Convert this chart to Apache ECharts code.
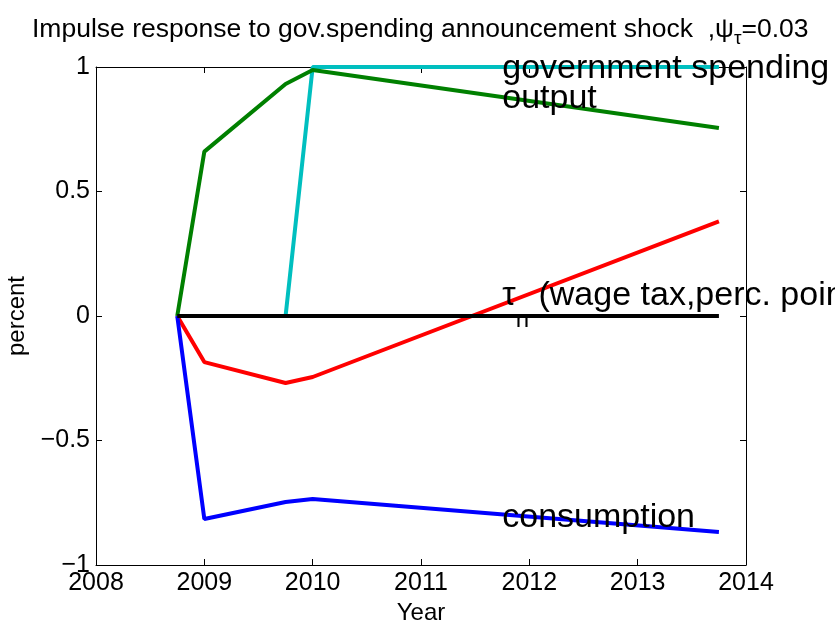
<!DOCTYPE html>
<html>
<head>
<meta charset="utf-8">
<script src="https://cdn.jsdelivr.net/npm/echarts@6/dist/echarts.min.js"></script>
<style>
html,body{margin:0;padding:0;background:#fff;}
#chart{width:835px;height:622px;}
</style>
</head>
<body>
<div id="chart"></div>
<script>
// quarters where the responses are drawn
var years = [2008.75, 2009, 2009.75, 2010, 2013.75];
var govSpending = [0, 0, 0, 1.0, 1.0];
var output = [0, 0.66, 0.932, 0.988, 0.755];
var redResponse = [0, -0.185, -0.269, -0.245, 0.38];
var consumption = [0, -0.815, -0.747, -0.735, -0.867];
var wageTax = [0, 0, 0, 0, 0];

// text labels put on the lines
var labelX = 2011.75;
var labelY = [1, 0.88, 0, -0.8];
var labelText = [
	'government spending',
	'output',
	'{t|τ}{s|n}{t| (wage tax,perc. points)}',
	'consumption'
];

var xTicks = [2008, 2014, 1];
var yTicks = [-1, 1, 0.5];

var chart = echarts.init(document.getElementById('chart'));

var pairs = function (ys) {
	return years.map(function (x, i) { return [x, ys[i]]; });
};
var lineSeries = function (name, ys, color) {
	return {
		name: name,
		type: 'line',
		data: pairs(ys),
		symbol: 'none',
		lineStyle: {color: color, width: 4},
		itemStyle: {color: color},
		animation: false
	};
};
var minus = function (v) {
	return String(v).replace('-', '\u2212');
};
var frameTick = {show: true, inside: true, length: 6, lineStyle: {color: '#000'}};
var frameLine = {show: true, onZero: false, lineStyle: {color: '#000', width: 1}};

var labelData = labelY.map(function (y, i) {
	var item = {value: [labelX, y, labelText[i]]};
	// the subscripted label sits higher, like matlab's text box middle
	if (labelText[i].indexOf('{s|') >= 0) {
		item.label = {offset: [0, -20]};
	}
	return item;
});

var option = {
	backgroundColor: '#fff',
	title: {
		text: '{a|Impulse response to gov.spending announcement shock  ,ψ}{b|τ}{a|=0.03}',
		left: 27,
		top: 6,
		textStyle: {
			fontWeight: 'normal',
			rich: {
				a: {fontSize: 26.5, color: '#000', fontWeight: 'normal', fontFamily: 'Liberation Sans'},
				b: {fontSize: 19, color: '#000', fontWeight: 'normal', fontFamily: 'Liberation Sans', padding: [18, 0, 0, 0]}
			}
		}
	},
	grid: {left: 96, right: 89, top: 67, bottom: 57, outerBoundsMode: 'none'},
	xAxis: [
		{
			type: 'value',
			min: xTicks[0], max: xTicks[1], interval: xTicks[2],
			name: 'Year',
			nameLocation: 'middle',
			nameGap: 30,
			nameTextStyle: {fontSize: 24, color: '#000', fontFamily: 'Liberation Sans'},
			axisLine: frameLine,
			axisTick: frameTick,
			splitLine: {show: false},
			axisLabel: {fontSize: 25, color: '#000', margin: 6, fontFamily: 'Liberation Sans',
				formatter: function (v) { return String(v); }}
		},
		{
			type: 'value', position: 'top',
			min: xTicks[0], max: xTicks[1], interval: xTicks[2],
			axisLine: frameLine,
			axisTick: frameTick,
			splitLine: {show: false},
			axisLabel: {show: false}
		}
	],
	yAxis: [
		{
			type: 'value',
			min: yTicks[0], max: yTicks[1], interval: yTicks[2],
			name: 'percent',
			nameLocation: 'middle',
			nameGap: 64,
			nameTextStyle: {fontSize: 24, color: '#000', fontFamily: 'Liberation Sans'},
			axisLine: frameLine,
			axisTick: frameTick,
			splitLine: {show: false},
			axisLabel: {fontSize: 25, color: '#000', margin: 6, fontFamily: 'Liberation Sans', formatter: minus}
		},
		{
			type: 'value', position: 'right',
			min: yTicks[0], max: yTicks[1], interval: yTicks[2],
			axisLine: frameLine,
			axisTick: frameTick,
			splitLine: {show: false},
			axisLabel: {show: false}
		}
	],
	series: [
		lineSeries('government spending', govSpending, '#00BFBF'),
		lineSeries('output', output, '#008000'),
		lineSeries('red', redResponse, '#FF0000'),
		lineSeries('consumption', consumption, '#0000FF'),
		lineSeries('wage tax', wageTax, '#000000'),
		{
			type: 'scatter',
			symbolSize: 0,
			silent: true,
			animation: false,
			z: 5,
			itemStyle: {opacity: 1},
			data: labelData,
			label: {
				show: true,
				position: 'right',
				distance: 0,
				offset: [0, 2],
				color: '#000',
				opacity: 1,
				fontSize: 34,
				fontFamily: 'Liberation Sans',
				formatter: function (p) { return p.data.value[2]; },
				rich: {
					t: {fontSize: 34, color: '#000', fontFamily: 'Liberation Sans'},
					s: {fontSize: 24, color: '#000', fontFamily: 'Liberation Sans', padding: [48, 0, 0, 0]}
				}
			}
		}
	]
};
chart.setOption(option);
</script>
</body>
</html>
